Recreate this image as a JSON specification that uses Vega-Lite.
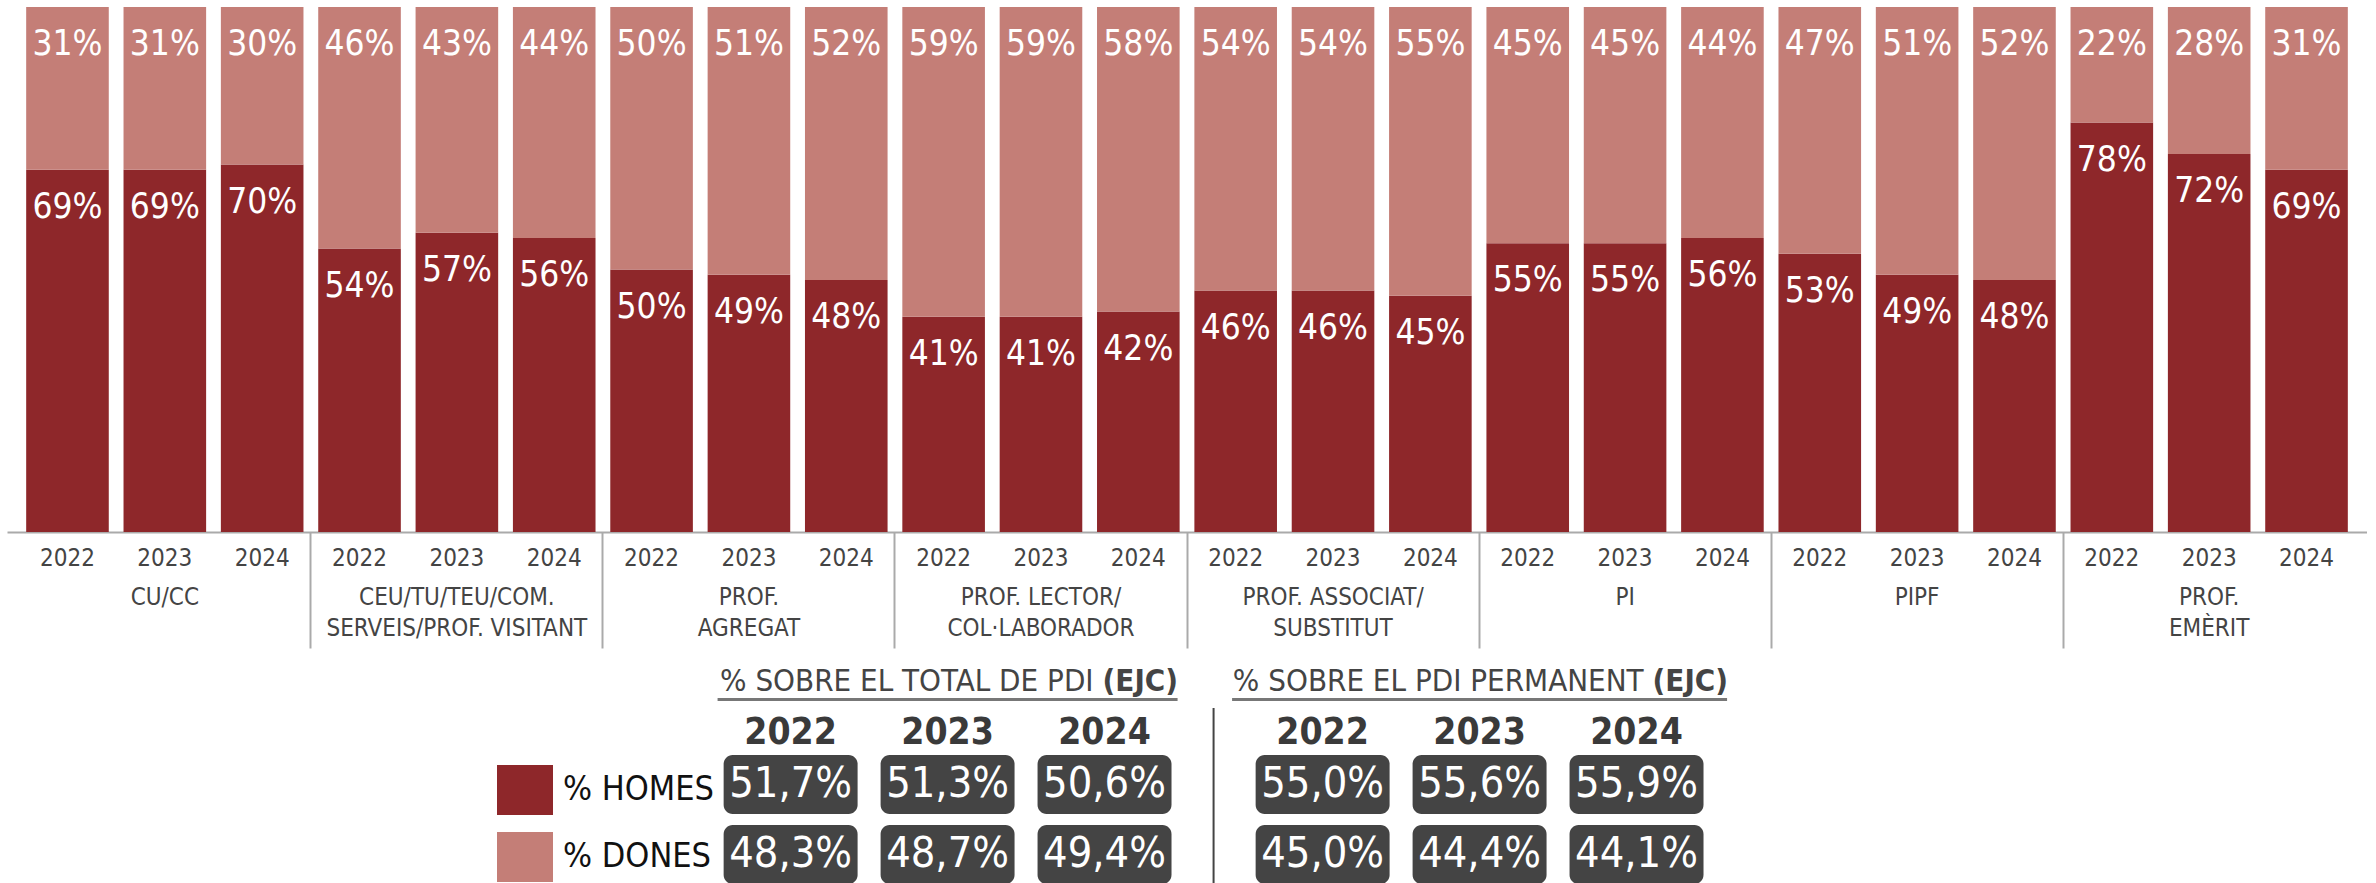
{
  "$schema": "https://vega.github.io/schema/vega-lite/v6.json",
  "background": "white",
  "padding": {"left": 7, "top": 7, "right": 0, "bottom": 0},
  "bounds": "flush",
  "spacing": 176,
  "config": {
    "view": {"stroke": null},
    "font": "DejaVu Sans Condensed, Roboto, sans-serif",
    "locale": {"number": {"decimal": ",", "thousands": ".", "grouping": [3], "currency": ["", " €"]}}
  },
  "resolve": {"scale": {"x": "independent", "xOffset": "independent", "y": "independent"}},
  "datasets": {
    "bars": [
      {"cat": "CU/CC", "year": "2022", "sex": "% HOMES", "v": 0.69},
      {"cat": "CU/CC", "year": "2022", "sex": "% DONES", "v": 0.31},
      {"cat": "CU/CC", "year": "2023", "sex": "% HOMES", "v": 0.69},
      {"cat": "CU/CC", "year": "2023", "sex": "% DONES", "v": 0.31},
      {"cat": "CU/CC", "year": "2024", "sex": "% HOMES", "v": 0.70},
      {"cat": "CU/CC", "year": "2024", "sex": "% DONES", "v": 0.30},
      {"cat": "CEU/TU/TEU/COM.\nSERVEIS/PROF. VISITANT", "year": "2022", "sex": "% HOMES", "v": 0.54},
      {"cat": "CEU/TU/TEU/COM.\nSERVEIS/PROF. VISITANT", "year": "2022", "sex": "% DONES", "v": 0.46},
      {"cat": "CEU/TU/TEU/COM.\nSERVEIS/PROF. VISITANT", "year": "2023", "sex": "% HOMES", "v": 0.57},
      {"cat": "CEU/TU/TEU/COM.\nSERVEIS/PROF. VISITANT", "year": "2023", "sex": "% DONES", "v": 0.43},
      {"cat": "CEU/TU/TEU/COM.\nSERVEIS/PROF. VISITANT", "year": "2024", "sex": "% HOMES", "v": 0.56},
      {"cat": "CEU/TU/TEU/COM.\nSERVEIS/PROF. VISITANT", "year": "2024", "sex": "% DONES", "v": 0.44},
      {"cat": "PROF.\nAGREGAT", "year": "2022", "sex": "% HOMES", "v": 0.50},
      {"cat": "PROF.\nAGREGAT", "year": "2022", "sex": "% DONES", "v": 0.50},
      {"cat": "PROF.\nAGREGAT", "year": "2023", "sex": "% HOMES", "v": 0.49},
      {"cat": "PROF.\nAGREGAT", "year": "2023", "sex": "% DONES", "v": 0.51},
      {"cat": "PROF.\nAGREGAT", "year": "2024", "sex": "% HOMES", "v": 0.48},
      {"cat": "PROF.\nAGREGAT", "year": "2024", "sex": "% DONES", "v": 0.52},
      {"cat": "PROF. LECTOR/\nCOL·LABORADOR", "year": "2022", "sex": "% HOMES", "v": 0.41},
      {"cat": "PROF. LECTOR/\nCOL·LABORADOR", "year": "2022", "sex": "% DONES", "v": 0.59},
      {"cat": "PROF. LECTOR/\nCOL·LABORADOR", "year": "2023", "sex": "% HOMES", "v": 0.41},
      {"cat": "PROF. LECTOR/\nCOL·LABORADOR", "year": "2023", "sex": "% DONES", "v": 0.59},
      {"cat": "PROF. LECTOR/\nCOL·LABORADOR", "year": "2024", "sex": "% HOMES", "v": 0.42},
      {"cat": "PROF. LECTOR/\nCOL·LABORADOR", "year": "2024", "sex": "% DONES", "v": 0.58},
      {"cat": "PROF. ASSOCIAT/\nSUBSTITUT", "year": "2022", "sex": "% HOMES", "v": 0.46},
      {"cat": "PROF. ASSOCIAT/\nSUBSTITUT", "year": "2022", "sex": "% DONES", "v": 0.54},
      {"cat": "PROF. ASSOCIAT/\nSUBSTITUT", "year": "2023", "sex": "% HOMES", "v": 0.46},
      {"cat": "PROF. ASSOCIAT/\nSUBSTITUT", "year": "2023", "sex": "% DONES", "v": 0.54},
      {"cat": "PROF. ASSOCIAT/\nSUBSTITUT", "year": "2024", "sex": "% HOMES", "v": 0.45},
      {"cat": "PROF. ASSOCIAT/\nSUBSTITUT", "year": "2024", "sex": "% DONES", "v": 0.55},
      {"cat": "PI", "year": "2022", "sex": "% HOMES", "v": 0.55},
      {"cat": "PI", "year": "2022", "sex": "% DONES", "v": 0.45},
      {"cat": "PI", "year": "2023", "sex": "% HOMES", "v": 0.55},
      {"cat": "PI", "year": "2023", "sex": "% DONES", "v": 0.45},
      {"cat": "PI", "year": "2024", "sex": "% HOMES", "v": 0.56},
      {"cat": "PI", "year": "2024", "sex": "% DONES", "v": 0.44},
      {"cat": "PIPF", "year": "2022", "sex": "% HOMES", "v": 0.53},
      {"cat": "PIPF", "year": "2022", "sex": "% DONES", "v": 0.47},
      {"cat": "PIPF", "year": "2023", "sex": "% HOMES", "v": 0.49},
      {"cat": "PIPF", "year": "2023", "sex": "% DONES", "v": 0.51},
      {"cat": "PIPF", "year": "2024", "sex": "% HOMES", "v": 0.48},
      {"cat": "PIPF", "year": "2024", "sex": "% DONES", "v": 0.52},
      {"cat": "PROF.\nEMÈRIT", "year": "2022", "sex": "% HOMES", "v": 0.78},
      {"cat": "PROF.\nEMÈRIT", "year": "2022", "sex": "% DONES", "v": 0.22},
      {"cat": "PROF.\nEMÈRIT", "year": "2023", "sex": "% HOMES", "v": 0.72},
      {"cat": "PROF.\nEMÈRIT", "year": "2023", "sex": "% DONES", "v": 0.28},
      {"cat": "PROF.\nEMÈRIT", "year": "2024", "sex": "% HOMES", "v": 0.69},
      {"cat": "PROF.\nEMÈRIT", "year": "2024", "sex": "% DONES", "v": 0.31}
    ],
    "tbl": [
      {"table": "TOTAL", "year": "2022", "sex": "% HOMES", "v": 0.517},
      {"table": "TOTAL", "year": "2023", "sex": "% HOMES", "v": 0.513},
      {"table": "TOTAL", "year": "2024", "sex": "% HOMES", "v": 0.506},
      {"table": "TOTAL", "year": "2022", "sex": "% DONES", "v": 0.483},
      {"table": "TOTAL", "year": "2023", "sex": "% DONES", "v": 0.487},
      {"table": "TOTAL", "year": "2024", "sex": "% DONES", "v": 0.494},
      {"table": "PERMANENT", "year": "2022", "sex": "% HOMES", "v": 0.550},
      {"table": "PERMANENT", "year": "2023", "sex": "% HOMES", "v": 0.556},
      {"table": "PERMANENT", "year": "2024", "sex": "% HOMES", "v": 0.559},
      {"table": "PERMANENT", "year": "2022", "sex": "% DONES", "v": 0.450},
      {"table": "PERMANENT", "year": "2023", "sex": "% DONES", "v": 0.444},
      {"table": "PERMANENT", "year": "2024", "sex": "% DONES", "v": 0.441}
    ],
    "titles": [
      {"table": "TOTAL", "main": "% SOBRE EL TOTAL DE PDI", "bold": "(EJC)"},
      {"table": "PERMANENT", "main": "% SOBRE EL PDI PERMANENT", "bold": "(EJC)"}
    ]
  },
  "vconcat": [
    {
      "width": 2360,
      "height": 525,
      "data": {"name": "bars"},
      "encoding": {
        "x": {
          "field": "cat", "type": "nominal", "sort": null,
          "scale": {"paddingInner": 0, "paddingOuter": 0.0404},
          "axis": {
            "title": null, "orient": "bottom",
            "domainColor": "#aaaaaa", "domainWidth": 2,
            "bandPosition": 0, "tickSize": 116, "tickWidth": 2,
            "tickColor": {"condition": {"test": "datum.value == 'CU/CC'", "value": "transparent"}, "value": "#aaaaaa"},
            "labelExpr": "split(datum.value, '\\n')",
            "labelPadding": -63, "labelBaseline": "top", "labelLineHeight": 31,
            "labelFontSize": 24, "labelColor": "#444444", "labelLimit": 0, "labelAngle": 0
          }
        },
        "xOffset": {"field": "year", "type": "nominal", "scale": {"paddingInner": 0.1515, "paddingOuter": 0.0758}}
      },
      "layer": [
        {
          "mark": {"type": "bar"},
          "encoding": {
            "y": {"field": "v", "type": "quantitative", "stack": "zero", "scale": {"domain": [0, 1]}, "axis": null},
            "color": {
              "field": "sex", "type": "nominal",
              "scale": {"domain": ["% HOMES", "% DONES"], "range": ["#8E272A", "#C47E77"]},
              "legend": {
                "title": null, "orient": "none", "legendX": 490, "legendY": 755,
                "symbolType": "M-1,-0.893L1,-0.893L1,0.893L-1,0.893Z",
                "symbolSize": 3136, "symbolStrokeWidth": 0, "symbolOpacity": 1,
                "labelFontSize": 34, "labelColor": "#111111",
                "rowPadding": 13, "labelOffset": 10, "labelLimit": 0
              }
            },
            "order": {"field": "sex", "sort": "descending"}
          }
        },
        {
          "mark": {"type": "text", "baseline": "top", "dy": 20, "fontSize": 35, "color": "white"},
          "encoding": {
            "y": {"field": "v", "type": "quantitative", "stack": "zero"},
            "detail": {"field": "sex"},
            "order": {"field": "sex", "sort": "descending"},
            "text": {"field": "v", "type": "quantitative", "format": ".0%"}
          }
        },
        {
          "transform": [{"filter": "datum.sex == '% HOMES'"}],
          "mark": {"type": "text", "baseline": "top", "dy": 15, "fontSize": 24, "color": "#444444"},
          "encoding": {
            "y": {"datum": 0, "type": "quantitative"},
            "text": {"field": "year"}
          }
        }
      ]
    },
    {
      "width": 2128,
      "height": 180,
      "encoding": {
        "x": {"field": "table", "type": "nominal", "sort": null,
              "scale": {"domain": ["TOTAL", "PERMANENT"], "paddingInner": 0, "paddingOuter": 1, "align": 0.634},
              "axis": null}
      },
      "layer": [
        {
          "data": {"name": "tbl"},
          "mark": {"type": "bar", "cornerRadius": 9, "color": "#444444"},
          "encoding": {
            "xOffset": {"field": "year", "type": "nominal", "scale": {"paddingInner": 0.1465, "paddingOuter": 0.268}},
            "y": {"field": "sex", "type": "nominal", "sort": null,
                  "scale": {"domain": ["% HOMES", "% DONES"], "paddingInner": 0.157, "paddingOuter": 0.364, "align": 0.92},
                  "axis": null}
          }
        },
        {
          "data": {"name": "tbl"},
          "mark": {"type": "text", "fontSize": 43, "color": "white", "baseline": "middle"},
          "encoding": {
            "xOffset": {"field": "year", "type": "nominal"},
            "y": {"field": "sex", "type": "nominal"},
            "text": {"field": "v", "type": "quantitative", "format": ".1%"}
          }
        },
        {
          "data": {"name": "tbl"},
          "transform": [{"filter": "datum.sex == '% HOMES'"}],
          "mark": {"type": "text", "fontSize": 37, "fontWeight": "bold", "color": "#3a3a3a", "baseline": "middle", "dy": -51},
          "encoding": {
            "xOffset": {"field": "year", "type": "nominal"},
            "y": {"datum": "% HOMES", "type": "nominal"},
            "text": {"field": "year"}
          }
        },
        {
          "data": {"name": "titles"},
          "mark": {"type": "text", "fontSize": 31, "color": "#444444", "align": "right", "baseline": "middle", "dy": -102,
                   "dx": {"expr": "datum.table == 'TOTAL' ? 146 : 164"}},
          "encoding": {
            "y": {"datum": "% HOMES", "type": "nominal"},
            "text": {"field": "main"}
          }
        },
        {
          "data": {"name": "titles"},
          "mark": {"type": "text", "fontSize": 31, "fontWeight": "bold", "color": "#444444", "align": "left", "baseline": "middle", "dy": -102,
                   "dx": {"expr": "datum.table == 'TOTAL' ? 155 : 173"}},
          "encoding": {
            "y": {"datum": "% HOMES", "type": "nominal"},
            "text": {"field": "bold"}
          }
        },
        {
          "data": {"name": "titles"},
          "mark": {"type": "bar", "color": "#777777", "height": 3, "yOffset": -85,
                   "width": {"expr": "datum.table == 'TOTAL' ? 460 : 495"}},
          "encoding": {
            "y": {"datum": "% HOMES", "type": "nominal"}
          }
        },
        {
          "data": {"name": "titles"},
          "transform": [{"filter": "datum.table == 'PERMANENT'"}],
          "mark": {"type": "rule", "color": "#444444", "strokeWidth": 2},
          "encoding": {
            "x": {"field": "table", "type": "nominal", "bandPosition": 0}
          }
        }
      ]
    }
  ]
}
